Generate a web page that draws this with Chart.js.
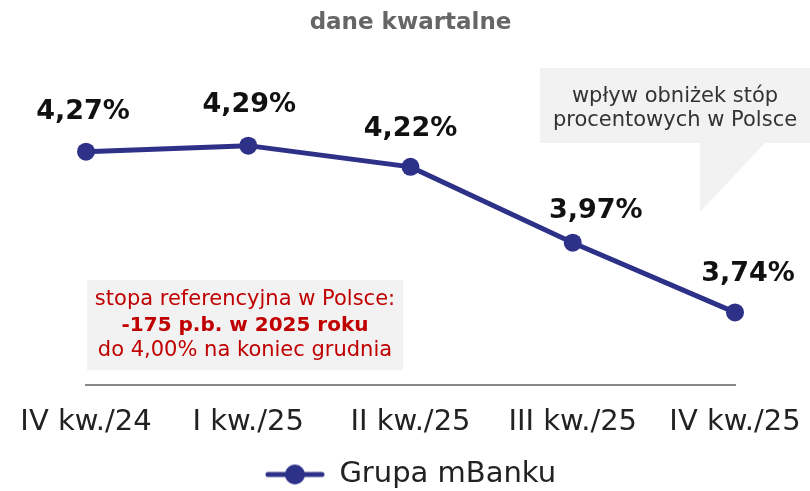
<!DOCTYPE html>
<html>
<head>
<meta charset="utf-8">
<script src="https://cdn.jsdelivr.net/npm/chart.js@4/dist/chart.umd.min.js"></script>
<style>
  body { margin: 0; background: #fff; }
</style>
</head>
<body>
<canvas id="myChart" width="810" height="491"></canvas>
<script>
var kwartaly = ["IV kw./24", "I kw./25", "II kw./25", "III kw./25", "IV kw./25"];
var marza = [4.27, 4.29, 4.22, 3.97, 3.74];
var etykiety = ["4,27%", "4,29%", "4,22%", "3,97%", "3,74%"];

var FONT = "'DejaVu Sans', sans-serif";
var navy = '#2e3188';

// where each value label sits relative to its point (dx, dy)
var labelOffsets = [[-3, -40], [1, -41], [0, -38], [23, -32], [13, -38]];

// legend icon: line with a dot
var legendIcon = document.createElement('canvas');
legendIcon.width = 60;
legendIcon.height = 24;
(function () {
  var c = legendIcon.getContext('2d');
  c.strokeStyle = navy;
  c.lineWidth = 5;
  c.lineCap = 'round';
  c.beginPath();
  c.moveTo(3, 12);
  c.lineTo(57, 12);
  c.stroke();
  c.fillStyle = navy;
  c.beginPath();
  c.arc(30, 12, 10, 0, Math.PI * 2);
  c.fill();
})();

var boxesPlugin = {
  id: 'boxes',
  beforeDatasetsDraw: function (chart) {
    var ctx = chart.ctx;
    ctx.save();
    ctx.fillStyle = '#f2f2f2';
    // red note box
    ctx.fillRect(87, 280, 316, 90);
    // speech bubble
    ctx.beginPath();
    ctx.moveTo(540, 68);
    ctx.lineTo(810, 68);
    ctx.lineTo(810, 143);
    ctx.lineTo(765, 143);
    ctx.lineTo(700, 212);
    ctx.lineTo(700, 143);
    ctx.lineTo(540, 143);
    ctx.closePath();
    ctx.fill();

    ctx.textAlign = 'center';
    ctx.textBaseline = 'middle';
    ctx.fillStyle = '#333333';
    ctx.font = '21px ' + FONT;
    ctx.fillText('wpływ obniżek stóp', 675, 97);
    ctx.fillText('procentowych w Polsce', 675, 121);

    ctx.fillStyle = '#c00000';
    ctx.font = '21px ' + FONT;
    ctx.fillText('stopa referencyjna w Polsce:', 245, 300);
    ctx.font = 'bold 20px ' + FONT;
    ctx.fillText('-175 p.b. w 2025 roku', 245, 326);
    ctx.font = '21px ' + FONT;
    ctx.fillText('do 4,00% na koniec grudnia', 245, 351);
    ctx.restore();
  },
  afterDatasetsDraw: function (chart) {
    var ctx = chart.ctx;
    var meta = chart.getDatasetMeta(0);
    ctx.save();
    ctx.fillStyle = '#111111';
    ctx.font = 'bold 27px ' + FONT;
    ctx.textAlign = 'center';
    ctx.textBaseline = 'middle';
    meta.data.forEach(function (pt, i) {
      ctx.fillText(etykiety[i], pt.x + labelOffsets[i][0], pt.y + labelOffsets[i][1]);
    });
    ctx.restore();
  }
};

var ctx = document.getElementById('myChart').getContext('2d');

var myChart = new Chart(ctx, {
  type: 'line',
  data: {
    labels: kwartaly,
    datasets: [{
      label: 'Grupa mBanku',
      data: marza,
      borderColor: navy,
      backgroundColor: navy,
      borderWidth: 5,
      pointRadius: 9,
      pointHoverRadius: 9,
      pointBackgroundColor: navy,
      pointBorderWidth: 0,
      fill: false,
      tension: 0
    }]
  },
  options: {
    responsive: false,
    animation: false,
    layout: {
      padding: { left: 86, right: 75, top: 8, bottom: -8 }
    },
    plugins: {
      title: {
        display: true,
        text: 'dane kwartalne',
        color: '#666666',
        font: { family: FONT, size: 23, weight: 'bold' },
        padding: { top: 1, bottom: 12 }
      },
      legend: {
        position: 'bottom',
        labels: {
          usePointStyle: true,
          pointStyle: legendIcon,
          pointStyleWidth: 60,
          color: '#222222',
          font: { family: FONT, size: 29 },
          padding: 0
        }
      },
      tooltip: { enabled: false }
    },
    scales: {
      x: {
        offset: false,
        grid: { display: false, drawTicks: false },
        border: { display: true, color: '#888888', width: 2 },
        ticks: {
          color: '#222222',
          font: { family: FONT, size: 29 },
          padding: 20,
          maxRotation: 0,
          autoSkip: false
        },
        afterFit: function (scale) {
          // let the edge labels run into the side margins
          scale.paddingLeft = 0;
          scale.paddingRight = 0;
        }
      },
      y: {
        display: false,
        min: 3.5,
        max: 4.61
      }
    }
  },
  plugins: [boxesPlugin]
});
</script>
</body>
</html>
